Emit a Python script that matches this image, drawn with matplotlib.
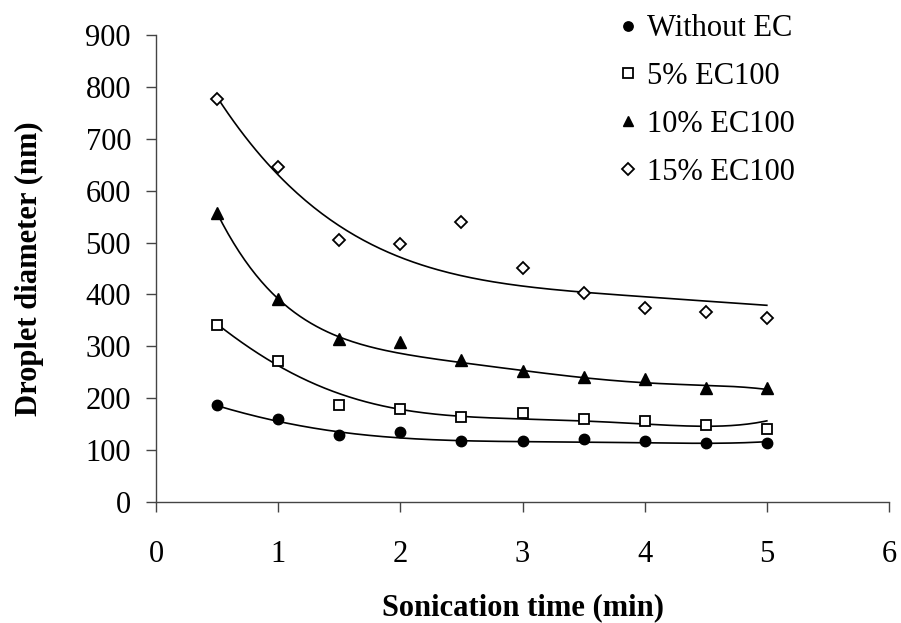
import matplotlib
matplotlib.use("Agg")
import matplotlib.pyplot as plt
import numpy as np

plt.rcParams['font.family'] = ['Liberation Serif', 'DejaVu Serif']

# sonication time (min)
time_min = [0.5, 1.0, 1.5, 2.0, 2.5, 3.0, 3.5, 4.0, 4.5, 5.0]

# droplet diameter (nm), measured points
without_ec = [187, 160, 130, 134, 118, 118, 122, 117, 114, 114]
ec5 = [342, 272, 187, 180, 164, 172, 160, 156, 149, 141]
ec10 = [556, 391, 315, 308, 273, 253, 241, 238, 219, 219]
ec15 = [776, 645, 505, 498, 540, 451, 402, 373, 367, 355]

# trend line values at the same times
trend_without_ec = [185, 158, 132, 123, 121, 116, 114, 114, 114, 116]
trend_ec5 = [342, 267, 203, 180, 168, 159, 155, 150, 147, 156]
trend_ec10 = [556, 395, 312, 290, 270, 252, 238, 232, 224, 217]
trend_ec15 = [776, 645, 518, 472, 439, 418, 405, 394, 386, 380]

labels = ["Without EC", "5% EC100", "10% EC100", "15% EC100"]
trend_degrees = [5, 5, 5, 4]

W, H = 901, 623
fig = plt.figure(figsize=(W / 100, H / 100), dpi=100)
ax = fig.add_axes([156 / W, 1 - 502 / H, (889 - 156) / W, (502 - 35) / H])

styles = [
    dict(marker="o", markersize=7.5, markerfacecolor="black", markeredgecolor="black"),
    dict(marker="s", markersize=7.5, markerfacecolor="white", markeredgecolor="black", markeredgewidth=1.3),
    dict(marker="^", markersize=8.5, markerfacecolor="black", markeredgecolor="black"),
    dict(marker="D", markersize=6.5, markerfacecolor="white", markeredgecolor="black", markeredgewidth=1.3),
]

x = np.array(time_min)
xs = np.linspace(x.min(), x.max(), 200)
series = [without_ec, ec5, ec10, ec15]
trends = [trend_without_ec, trend_ec5, trend_ec10, trend_ec15]
for y, t, deg, lab, st in zip(series, trends, trend_degrees, labels, styles):
    coef = np.polyfit(x, np.array(t), deg)
    ax.plot(xs, np.polyval(coef, xs), color="black", lw=1.2, zorder=2)
    ax.plot(x, y, linestyle="none", label=lab, zorder=3, **st)

ax.set_xlim(0, 6)
ax.set_ylim(0, 900)
ax.set_xticks(range(0, 7))
ax.set_yticks(range(0, 901, 100))
for s in ["top", "right"]:
    ax.spines[s].set_visible(False)
for s in ["left", "bottom"]:
    ax.spines[s].set_color("#444444")
    ax.spines[s].set_linewidth(1.0)
ax.tick_params(axis="both", direction="out", length=7, width=1.0, color="#444444", labelsize=22)
ax.tick_params(axis="x", pad=20)
ax.tick_params(axis="y", pad=11)

ax.set_xlabel("Sonication time (min)", fontsize=22, fontweight="bold", labelpad=18)
ax.set_ylabel("Droplet diameter (nm)", fontsize=22, fontweight="bold", labelpad=30)

ax.legend(loc="upper left", bbox_to_anchor=(607 / W, 1 - 2 / H), bbox_transform=fig.transFigure,
          frameon=False, fontsize=22, handlelength=0.6, handletextpad=0.3, labelspacing=0.62,
          borderaxespad=0, markerscale=0.9)

fig.savefig("out.png", dpi=100)
